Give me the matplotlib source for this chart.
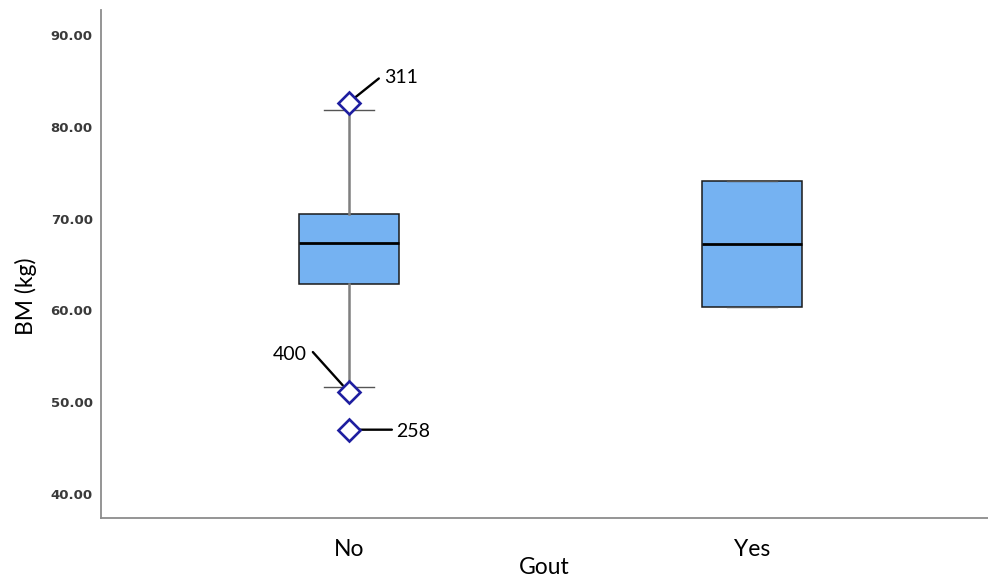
import matplotlib
matplotlib.use("Agg")
import matplotlib.pyplot as plt

# data
groups = ["No", "Yes"]
q1 = [62.9, 60.35]
med = [67.35, 67.2]
q3 = [70.55, 74.05]
whislo = [51.6, 60.35]
whishi = [81.8, 74.05]
outliers = [[82.65, 51.1, 47.0], []]
case_ids = [["311", "400", "258"], []]
yticks = [40, 50, 60, 70, 80, 90]

# label placement for each case id (offset points): line end, text pos, align
label_style = {
    "311": dict(line=(21.6, 17.3), text=(25.5, 18.0), ha="left"),
    "400": dict(line=(-25.9, 28.8), text=(-30.0, 27.4), ha="right"),
    "258": dict(line=(31.0, 0.0), text=(33.8, -1.5), ha="left"),
}

fig = plt.figure(figsize=(9.88, 5.77), dpi=100)
ax = fig.add_axes([0.1022, 0.1023, 0.8978, 0.8807])

stats = []
for i, g in enumerate(groups):
    stats.append(dict(label=g, q1=q1[i], med=med[i], q3=q3[i],
                      whislo=whislo[i], whishi=whishi[i], fliers=outliers[i]))

ax.bxp(stats, positions=range(len(groups)), widths=0.248, capwidths=0.124,
       patch_artist=True,
       boxprops=dict(facecolor="#75B2F2", edgecolor="#1a1a1a", linewidth=1.1),
       medianprops=dict(color="black", linewidth=2.0),
       whiskerprops=dict(color="#7f7f7f", linewidth=1.8),
       capprops=dict(color="#555555", linewidth=1.0),
       flierprops=dict(marker="D", markersize=11.5, markerfacecolor="white",
                       markeredgecolor="#1E1EA0", markeredgewidth=1.9, zorder=4))

# case labels with leader lines
for i, g in enumerate(groups):
    for v, cid in zip(outliers[i], case_ids[i]):
        st = label_style[cid]
        ax.annotate("", xy=(i, v), xytext=st["line"], textcoords="offset points",
                    arrowprops=dict(arrowstyle="-", color="black", lw=1.7,
                                    shrinkA=0, shrinkB=6.5), zorder=3)
        ax.annotate(cid, xy=(i, v), xytext=st["text"], textcoords="offset points",
                    ha=st["ha"], va="center", fontsize=14, family="Lato",
                    color="black")

ax.set_xlim(-0.615, 1.586)
ax.set_ylim(37.38, 92.75)
ax.set_yticks(yticks)
ax.set_yticklabels([f"{t:.2f}" for t in yticks], fontsize=9.5,
                   fontweight="bold", color="#3a3a3a")
ax.set_xticks(range(len(groups)))
ax.set_xticklabels(groups, fontsize=16.5, family="Lato")
ax.tick_params(axis="y", length=0, pad=6)
ax.tick_params(axis="x", length=0, pad=15)

ax.set_xlabel("Gout", fontsize=16.5, family="Lato", labelpad=-2)
ax.set_ylabel("BM (kg)", fontsize=16.5, family="Lato")
ax.yaxis.set_label_coords(-0.072, 0.437)

for s in ("top", "right"):
    ax.spines[s].set_visible(False)
for s in ("left", "bottom"):
    ax.spines[s].set_color("#8c8c8c")
    ax.spines[s].set_linewidth(1.3)

fig.savefig("out.png", dpi=100)
